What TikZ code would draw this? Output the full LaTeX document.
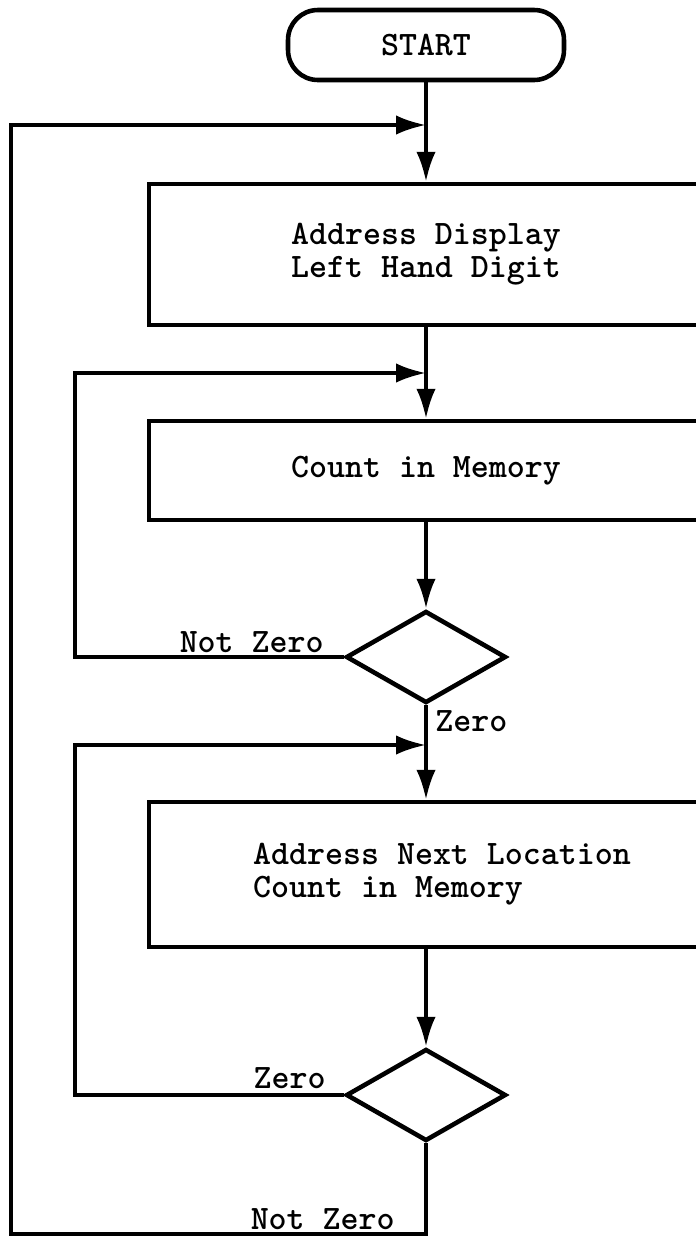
\documentclass[tikz,border=0pt]{standalone}
\usepackage{fontspec}
\usepackage{tikz}
\usetikzlibrary{shapes,positioning,calc}
\usetikzlibrary{arrows.meta}
\tikzset{>={Latex[length=17pt,width=11pt]}}
\newcommand{\flowfont}{\ttfamily\bfseries\fontsize{19.5}{18.8}\selectfont}
\tikzstyle{flow}=[->,line width=2.1pt]
\tikzstyle{wire}=[line width=2.1pt]
\tikzstyle{block}=[draw,line width=2.6pt,minimum width=11.08cm,font=\flowfont,align=center]
\tikzstyle{test}=[draw,diamond,line width=2.6pt,minimum width=3.2cm,minimum height=1.84cm,inner sep=0pt]
\tikzstyle{lbl}=[inner sep=0pt,font=\flowfont]

\begin{document}
\begin{tikzpicture}[x=0.02cm, y=-0.02cm]
					\path[use as bounding box,clip] (0,0) rectangle (696,1238);
					% boxes
					\node[draw,line width=2.6pt,rounded corners=17pt,minimum width=5.52cm,minimum height=1.4cm,font=\flowfont] (start) at (426,45) {START};
					\node[block,minimum height=2.82cm] (disp) at (426,254.5) {Address Display\\Left Hand Digit};
					\node[block,minimum height=1.98cm] (count) at (426,470.5) {Count in Memory};
					\node[test] (zero1) at (426,657) {};
					\node[block,minimum height=2.9cm] (next) at (426,874.5) {};
					\node[lbl,align=left] (nexttext) at (442,874) {Address Next Location\\Count in Memory};
					\node[test] (zero2) at (426,1095) {};
					% joins
					\coordinate (j1) at (426,125);
					\coordinate (j2) at (426,373);
					\coordinate (j3) at (426,745);
					\coordinate (c1) at (11,125);
					\coordinate (c2) at (75,373);
					\coordinate (c3) at (75,745);
					\coordinate (o3) at (426,1234);
					% main line
					\draw[wire] (start) -- (j1);
					\draw[flow] (j1) -- (disp);
					\draw[flow] (disp) -- (count);
					\draw[flow] (count) -- (zero1);
					\draw[flow] (zero1) -- (next);
					\draw[flow] (next) -- (zero2);
					% loops
					\draw[flow] (zero1.west) -| (c2) -- (j2);
					\draw[flow] (zero2.west) -| (c3) -- (j3);
					\draw[flow] (zero2.south) -- (o3) -| (c1) -- (j1);
					% labels
					\node[lbl,anchor=base east] (nz1) at (324,652) {Not Zero};
					\node[lbl,anchor=base west] (z1) at (435,731) {Zero};
					\node[lbl,anchor=base east] (z2) at (326,1088) {Zero};
					\node[lbl,anchor=base east] (nz2) at (395,1229) {Not Zero};
				\end{tikzpicture}
\end{document}
